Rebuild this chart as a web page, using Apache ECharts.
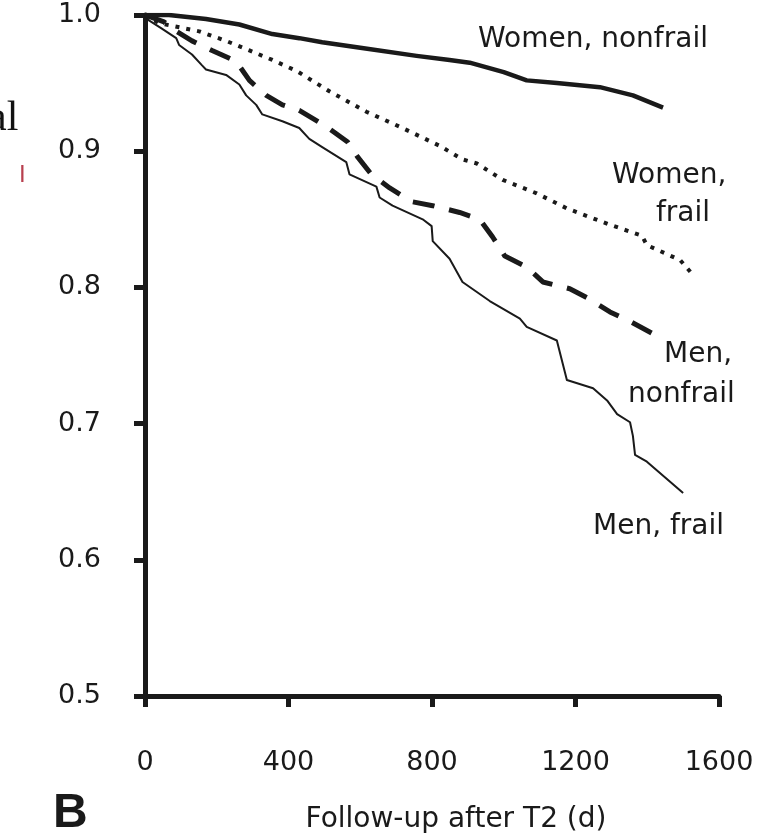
<!DOCTYPE html>
<html>
<head>
<meta charset="utf-8">
<title>Survival by sex and frailty</title>
<script src="https://cdn.jsdelivr.net/npm/echarts@6/dist/echarts.min.js"></script>
<style>
  html, body { margin: 0; padding: 0; background: #ffffff; }
  #chart { width: 763px; height: 839px; }
</style>
</head>
<body>
<div id="chart"></div>
<script>
// Follow-up days and survival proportions for each group
const womenNonfrailDays = [0, 67, 170, 263, 355, 430, 494, 600, 757, 849, 905, 1000, 1064, 1148, 1268, 1360, 1444];
const womenNonfrailSurv = [1.0, 1.0, 0.997, 0.993, 0.986, 0.983, 0.980, 0.976, 0.970, 0.967, 0.965, 0.958, 0.952, 0.950, 0.947, 0.941, 0.932];

const womenFrailDays = [0, 39, 151, 226, 291, 355, 422, 514, 617, 718, 821, 885, 925, 997, 1092, 1176, 1296, 1385, 1399, 1492, 1528];
const womenFrailSurv = [1.0, 0.994, 0.988, 0.981, 0.974, 0.967, 0.959, 0.944, 0.929, 0.917, 0.904, 0.894, 0.891, 0.879, 0.869, 0.858, 0.846, 0.838, 0.831, 0.820, 0.809];

const menNonfrailDays = [0, 53, 75, 131, 187, 254, 291, 338, 383, 430, 506, 564, 592, 631, 682, 743, 802, 877, 933, 969, 1003, 1064, 1109, 1184, 1235, 1296, 1352, 1416, 1428];
const menNonfrailSurv = [1.0, 0.995, 0.990, 0.981, 0.974, 0.966, 0.952, 0.941, 0.934, 0.930, 0.918, 0.907, 0.896, 0.883, 0.873, 0.863, 0.860, 0.855, 0.850, 0.837, 0.823, 0.815, 0.804, 0.799, 0.792, 0.782, 0.775, 0.766, 0.764];

const menFrailDays = [0, 11, 47, 87, 95, 131, 159, 170, 226, 263, 282, 310, 327, 383, 430, 458, 494, 561, 570, 645, 654, 690, 774, 799, 802, 849, 885, 961, 1045, 1064, 1148, 1176, 1249, 1288, 1316, 1352, 1360, 1366, 1399, 1500];
const menFrailSurv = [1.0, 0.996, 0.990, 0.983, 0.978, 0.971, 0.963, 0.960, 0.956, 0.949, 0.941, 0.934, 0.927, 0.922, 0.917, 0.909, 0.903, 0.892, 0.883, 0.874, 0.866, 0.860, 0.850, 0.845, 0.834, 0.821, 0.804, 0.790, 0.777, 0.771, 0.761, 0.732, 0.726, 0.717, 0.707, 0.701, 0.691, 0.677, 0.672, 0.649];

// Axis ticks
const xTicks = [0, 400, 800, 1200, 1600];
const yTicks = [0.5, 0.6, 0.7, 0.8, 0.9, 1.0];

const pair = (xs, ys) => xs.map((x, i) => [x, ys[i]]);

const ink = '#1a1a1a';
const font = 'DejaVu Sans';

const chart = echarts.init(document.getElementById('chart'), null, { renderer: 'canvas' });

chart.setOption({
  backgroundColor: '#ffffff',
  animation: false,
  grid: { left: 145, right: 44, top: 15, bottom: 141, containLabel: false },
  xAxis: {
    type: 'value',
    min: xTicks[0],
    max: xTicks[xTicks.length - 1],
    interval: 400,
    name: 'Follow-up after T2 (d)',
    nameLocation: 'middle',
    nameGap: 110,
    nameTextStyle: { fontFamily: font, fontSize: 28, color: ink, padding: [0, 0, 0, 48] },
    axisLine: { show: true, onZero: false, lineStyle: { color: ink, width: 5 } },
    axisTick: { show: true, inside: false, length: 11, lineStyle: { color: ink, width: 5 } },
    axisLabel: { fontFamily: font, fontSize: 27, color: ink, margin: 53, formatter: v => String(v) },
    splitLine: { show: false }
  },
  yAxis: {
    type: 'value',
    min: yTicks[0],
    max: yTicks[yTicks.length - 1],
    interval: 0.1,
    axisLine: { show: true, onZero: false, lineStyle: { color: ink, width: 5 } },
    axisTick: { show: true, inside: false, length: 11, lineStyle: { color: ink, width: 5 } },
    axisLabel: { fontFamily: font, fontSize: 27, color: ink, margin: 44, formatter: v => v.toFixed(1) },
    splitLine: { show: false }
  },
  series: [
    {
      name: 'Women, nonfrail', type: 'line', showSymbol: false, z: 4,
      data: pair(womenNonfrailDays, womenNonfrailSurv),
      lineStyle: { color: ink, width: 4.5, type: 'solid', join: 'round' }
    },
    {
      name: 'Women, frail', type: 'line', showSymbol: false, z: 3,
      data: pair(womenFrailDays, womenFrailSurv),
      lineStyle: { color: ink, width: 4, type: [4, 7], cap: 'butt' }
    },
    {
      name: 'Men, nonfrail', type: 'line', showSymbol: false, z: 3,
      data: pair(menNonfrailDays, menNonfrailSurv),
      lineStyle: { color: ink, width: 5, type: [22, 15], cap: 'butt' }
    },
    {
      name: 'Men, frail', type: 'line', showSymbol: false, z: 2,
      data: pair(menFrailDays, menFrailSurv),
      lineStyle: { color: ink, width: 2, type: 'solid', join: 'round' }
    }
  ],
  graphic: [
    { type: 'text', left: 478, top: 26, style: { text: 'Women, nonfrail', font: '28px "DejaVu Sans"', fill: ink } },
    { type: 'text', left: 612, top: 162, style: { text: 'Women,', font: '28px "DejaVu Sans"', fill: ink } },
    { type: 'text', left: 656, top: 200, style: { text: 'frail', font: '28px "DejaVu Sans"', fill: ink } },
    { type: 'text', left: 664, top: 341, style: { text: 'Men,', font: '28px "DejaVu Sans"', fill: ink } },
    { type: 'text', left: 628, top: 381, style: { text: 'nonfrail', font: '28px "DejaVu Sans"', fill: ink } },
    { type: 'text', left: 593, top: 513, style: { text: 'Men, frail', font: '28px "DejaVu Sans"', fill: ink } },
    { type: 'text', left: 53, top: 790, style: { text: 'B', font: 'bold 48px "Liberation Sans"', fill: ink } },
    { type: 'text', left: -12, top: 98, style: { text: 'al', font: '42px "Liberation Serif"', fill: '#111111' } },
    { type: 'text', left: 19, top: 163, style: { text: 'I', font: '24px "Liberation Sans"', fill: '#b8404f' } }
  ]
});
</script>
</body>
</html>
